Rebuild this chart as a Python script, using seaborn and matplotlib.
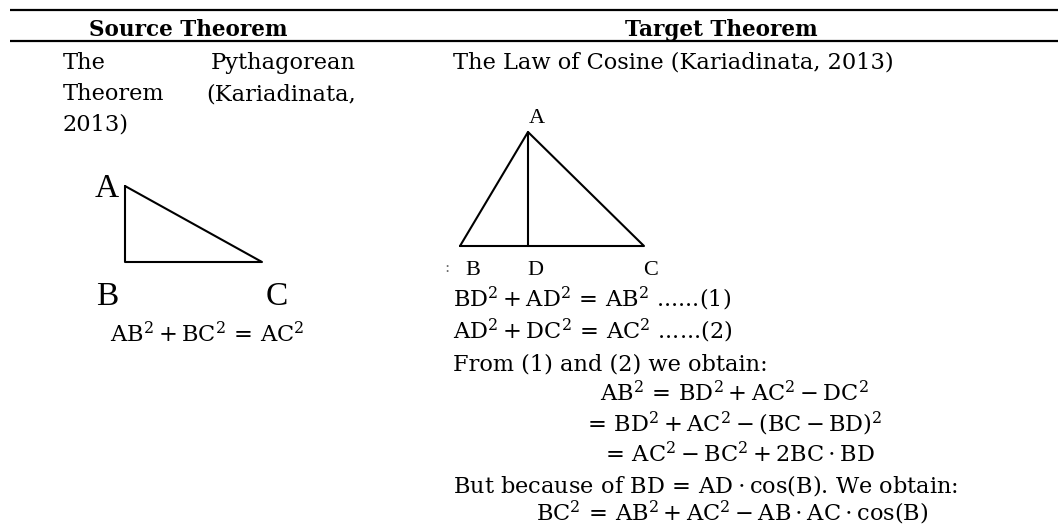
import matplotlib
matplotlib.use("Agg")
import matplotlib.pyplot as plt
import seaborn as sns
import pandas as pd

# headers of the two columns
headers = ["Source Theorem", "Target Theorem"]

# left column text
left_words = [("The", "Pythagorean"), ("Theorem", "(Kariadinata,")]
left_last = "2013)"
left_formula = r"$AB^2 + BC^2 \,=\, AC^2$"

# right column text
right_title = "The Law of Cosine (Kariadinata, 2013)"
right_lines = [
    r"$BD^2 + AD^2 \,=\, AB^2$ ......(1)",
    r"$AD^2 + DC^2 \,=\, AC^2$ ......(2)",
    "From (1) and (2) we obtain:",
    r"$AB^2 \,=\, BD^2 + AC^2 - DC^2$",
    r"$=\, BD^2 + AC^2 - (BC - BD)^2$",
    r"$=\, AC^2 - BC^2 + 2BC \cdot BD$",
    r"But because of $BD \,=\, AD \cdot \cos(B)$. We obtain:",
    r"$BC^2 \,=\, AB^2 + AC^2 - AB \cdot AC \cdot \cos(B)$",
]
right_x = [453, 453, 453, 600, 583, 601, 453, 536]
right_y = [307, 339, 370, 401, 432, 462, 493, 521]

# triangle drawings (pixel coords of the page)
left_tri = pd.DataFrame({"x": [125, 125, 262, 125], "y": [186, 262, 262, 186]})
right_tri = pd.DataFrame({"x": [460, 528, 644, 460], "y": [246, 132, 246, 246]})
altitude = pd.DataFrame({"x": [528, 528], "y": [132, 246]})
left_labels = {"A": (107, 197), "B": (107, 305), "C": (277, 305)}
right_labels = {"A": (537, 123), "B": (473, 275), "D": (535, 275), "C": (651, 275)}

sns.set_theme(style="white")
plt.rcParams["font.family"] = ["DejaVu Serif"]
plt.rcParams["text.color"] = "black"
plt.rcParams["mathtext.default"] = "regular"
plt.rcParams["mathtext.fontset"] = "dejavuserif"

fig = plt.figure(figsize=(10.58, 5.28), dpi=100)
ax = fig.add_axes([0, 0, 1, 1])

# table rules
ax.hlines([10, 41], 10, 1058, color="black", lw=1.6)

fs = 16.2
ax.text(188, 36, headers[0], ha="center", va="baseline", fontsize=15.5, fontweight="bold")
ax.text(721, 36, headers[1], ha="center", va="baseline", fontsize=15.5, fontweight="bold")

# left column (justified)
for i, (a, b) in enumerate(left_words):
    yy = 69 + i * 31
    ax.text(63, yy, a, ha="left", va="baseline", fontsize=fs)
    ax.text(356, yy, b, ha="right", va="baseline", fontsize=fs)
ax.text(63, 131, left_last, ha="left", va="baseline", fontsize=fs)
ax.text(110, 342, left_formula, ha="left", va="baseline", fontsize=fs)

for d in [left_tri, right_tri, altitude]:
    sns.lineplot(data=d, x="x", y="y", sort=False, estimator=None,
                 color="black", lw=1.5, ax=ax, legend=False)
ax.set_xlim(0, 1058)
ax.set_ylim(528, 0)
ax.set_axis_off()

for k, (lx, ly) in left_labels.items():
    ax.text(lx, ly, k, ha="center", va="baseline", fontsize=24, family="Liberation Serif")
for k, (lx, ly) in right_labels.items():
    ax.text(lx, ly, k, ha="center", va="baseline", fontsize=16, family="Liberation Serif")
ax.text(447, 272, ":", ha="center", va="baseline", fontsize=11, color="#666666")

# right column
ax.text(453, 69, right_title, ha="left", va="baseline", fontsize=fs)
for s, xx, yy in zip(right_lines, right_x, right_y):
    ax.text(xx, yy, s, ha="left", va="baseline", fontsize=fs)

fig.savefig("out.png", dpi=100, facecolor="white")
